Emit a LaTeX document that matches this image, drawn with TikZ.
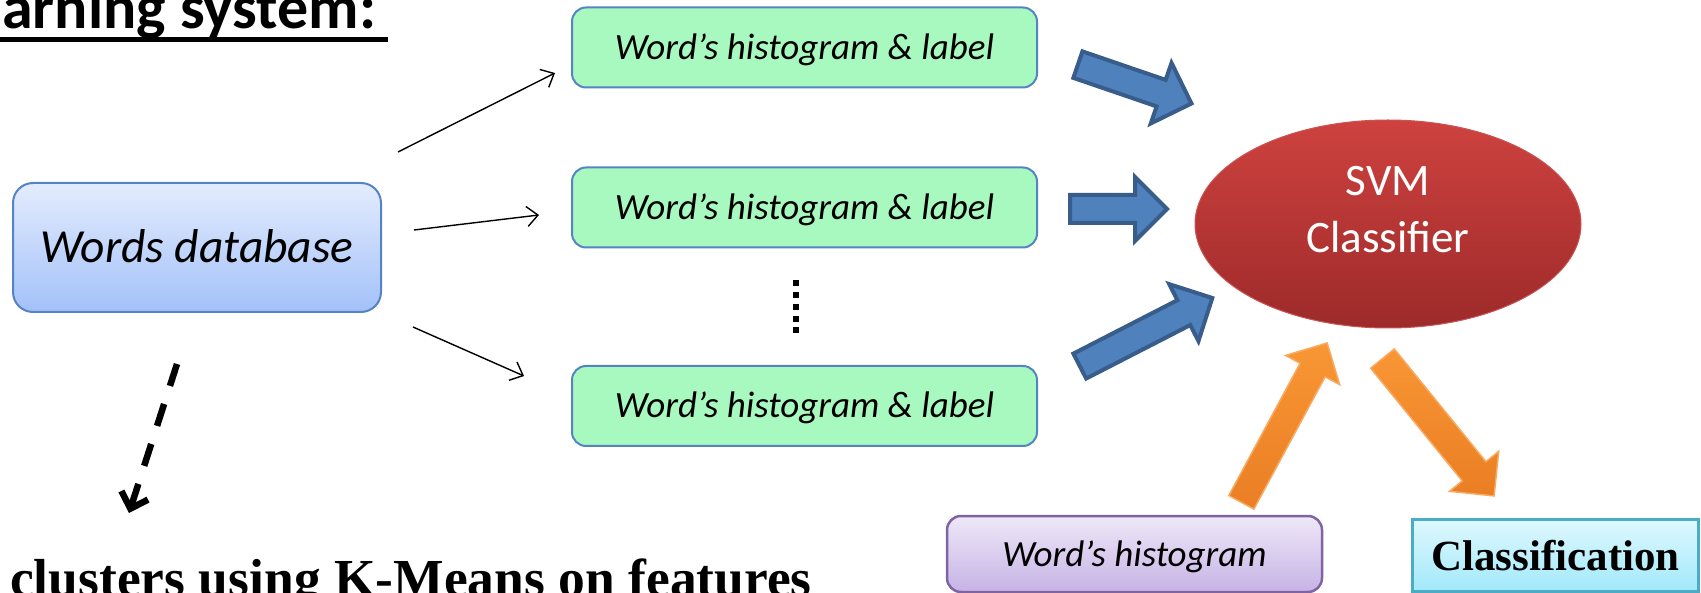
\documentclass[tikz,border=0pt]{standalone}
\usepackage{fontspec}
\setmainfont{Liberation Serif}
\newfontfamily\calibri{Carlito}
\usetikzlibrary{shapes.arrows,shapes.geometric,arrows.meta}

\definecolor{dbtop}{RGB}{227,236,253}
\definecolor{dbbot}{RGB}{163,193,249}
\definecolor{boxblue}{RGB}{84,132,196}
\definecolor{histgreen}{RGB}{168,249,191}
\definecolor{svmtop}{RGB}{206,66,63}
\definecolor{svmbot}{RGB}{157,42,42}
\definecolor{svmedge}{RGB}{200,85,82}
\definecolor{arrowblue}{RGB}{79,129,189}
\definecolor{arrowedge}{RGB}{56,93,138}
\definecolor{orangedark}{RGB}{234,126,36}
\definecolor{orangelight}{RGB}{248,150,52}
\definecolor{orangeedge}{RGB}{249,170,98}
\definecolor{lavtop}{RGB}{238,232,248}
\definecolor{lavbot}{RGB}{198,179,229}
\definecolor{lavedge}{RGB}{128,100,162}
\definecolor{cyantop}{RGB}{223,248,254}
\definecolor{cyanbot}{RGB}{162,233,251}
\definecolor{cyanedge}{RGB}{75,172,198}

\begin{document}
\begin{tikzpicture}[x=1pt,y=-1pt,
  dbbox/.style={draw=boxblue, line width=2pt, rounded corners=20pt,
    top color=dbtop, bottom color=dbbot, minimum width=368pt, minimum height=129pt,
    inner sep=0pt, font=\calibri\itshape\fontsize{47.5}{50}\selectfont,
    text height=31pt, text depth=0pt},
  histbox/.style={draw=boxblue, line width=2pt, rounded corners=14pt,
    fill=histgreen, minimum width=465pt, minimum height=80pt, inner sep=0pt,
    font=\calibri\itshape\fontsize{37}{40}\selectfont, text height=24pt, text depth=0pt},
  querybox/.style={draw=lavedge, line width=2.5pt, rounded corners=14pt,
    top color=lavtop, bottom color=lavbot, minimum width=375pt, minimum height=76pt,
    inner sep=0pt, font=\calibri\itshape\fontsize{37}{40}\selectfont,
    text height=24pt, text depth=0pt},
  resultbox/.style={draw=cyanedge, line width=3pt, top color=cyantop, bottom color=cyanbot,
    minimum width=286pt, minimum height=72pt, inner sep=0pt,
    font=\bfseries\fontsize{43}{45}\selectfont, text height=30pt, text depth=0pt},
  svmshape/.style={ellipse, draw=svmedge, line width=1pt, top color=svmtop, bottom color=svmbot,
    minimum width=386pt, minimum height=208pt, inner sep=0pt},
  svmtext/.style={text=white, align=center, font=\calibri\fontsize{45}{57}\selectfont, inner sep=0pt},
  thinarrow/.style={line width=1.4pt, -{Straight Barb[length=11pt,width=20pt]}},
  dasharrow/.style={line width=6.5pt, dash pattern=on 23pt off 19pt,
    -{Straight Barb[length=14pt,width=28pt]}},
  bluearrow/.style={single arrow, draw=arrowedge, fill=arrowblue, line width=4pt,
    inner xsep=0pt, inner ysep=12pt, single arrow head extend=18pt,
    minimum width=60pt, minimum height=#1},
  orangearrow/.style={single arrow, draw=orangeedge, line width=1.5pt,
    top color=orangelight, bottom color=orangedark,
    inner xsep=0pt, inner ysep=13.5pt, single arrow head extend=16.5pt,
    minimum width=60pt, minimum height=#1}
]
\useasboundingbox (0,0) rectangle (1701,593);
\clip (0,0) rectangle (1701,593);

% heading, cut at the top edge
\node[anchor=base west, inner sep=0pt, font=\calibri\bfseries\fontsize{62}{66}\selectfont]
  (title) at (2,29) {arning system:};
\fill (0,37) rectangle (388,42);

% training side
\node[dbbox] (db) at (197,247.5) {Words database};
\node[histbox] (h1) at (804.5,47.5) {Word’s histogram \& label};
\node[histbox] (h2) at (804.5,207.5) {Word’s histogram \& label};
\node[histbox] (h3) at (804.5,406) {Word’s histogram \& label};
\draw[line width=6pt, dash pattern=on 6pt off 5.85pt] (796,280) -- (796,334);

\coordinate (db-o1) at (398,152);
\coordinate (db-o2) at (414,230);
\coordinate (db-o3) at (413,327);
\coordinate (h1-in) at (555,73);
\coordinate (h2-in) at (539,215);
\coordinate (h3-in) at (524,376);
\draw[thinarrow] (db-o1) -- (h1-in);
\draw[thinarrow] (db-o2) -- (h2-in);
\draw[thinarrow] (db-o3) -- (h3-in);

% clustering step
\coordinate (db-down) at (177,364);
\coordinate (km-in) at (129,513);
\draw[dasharrow] (db-down) -- (km-in);
\node[anchor=base west, inner sep=0pt, font=\bfseries\fontsize{53.5}{56}\selectfont]
  (clusters) at (10,596) {clusters using K-Means on features};

% classifier
\node[svmshape] (svm) at (1388,224) {};
\node[svmtext] (svmlabel) at (1388,209.5) {SVM\\Classifier};

\node[bluearrow=120pt, rotate=-18.9, anchor=tail] (b1) at (1076,64) {};
\node[bluearrow=97pt, anchor=tail] (b2) at (1068,209) {};
\node[bluearrow=149pt, rotate=27.2, anchor=tail] (b3) at (1078,367) {};

% testing side
\node[querybox] (query) at (1134.5,554) {Word’s histogram};
\node[resultbox] (result) at (1555.5,555) {Classification};
\node[orangearrow=181pt, rotate=61.7, anchor=tail] (o1) at (1241,503) {};
\node[orangearrow=177pt, rotate=-50.9, anchor=tail, inner ysep=14.5pt, minimum width=62pt] (o2) at (1382,358) {};
\end{tikzpicture}
\end{document}
